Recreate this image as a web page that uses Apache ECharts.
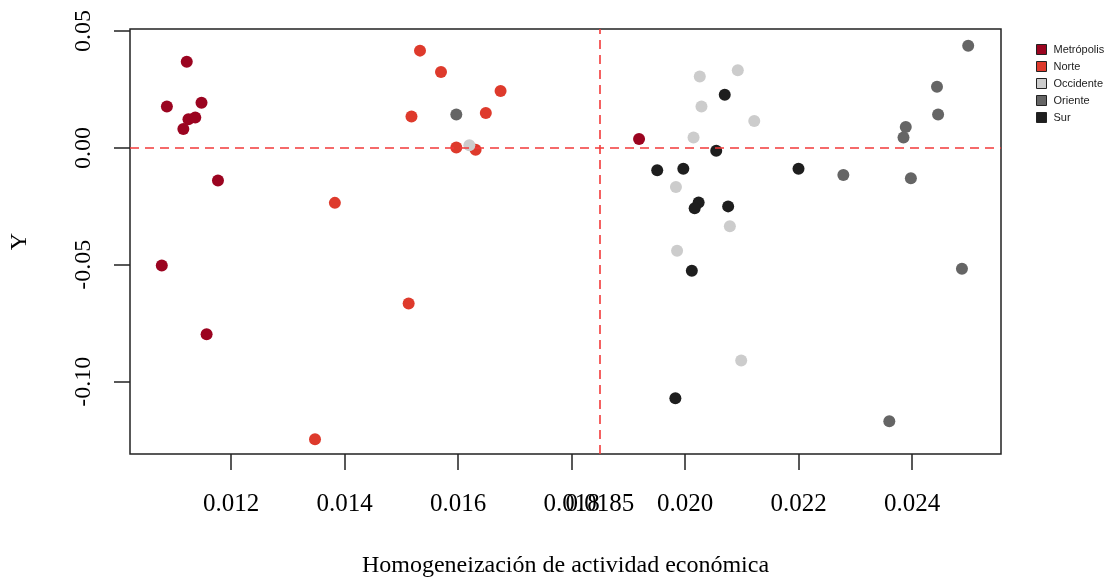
<!DOCTYPE html>
<html>
<head>
<meta charset="utf-8">
<script src="https://cdn.jsdelivr.net/npm/echarts@6/dist/echarts.min.js"></script>
<style>
  html, body { margin: 0; padding: 0; background: #fff; }
  #chart { width: 1116px; height: 583px; }
</style>
</head>
<body>
<div id="chart"></div>
<script>
    var regions = ['Metrópolis', 'Norte', 'Occidente', 'Oriente', 'Sur']
    var colors = ['#9b0420', '#de3a2c', '#cccccc', '#656565', '#1e1e1e']

    // homogeneizacion (x) / Y por region
    var metX = [0.01122, 0.01087, 0.01148, 0.01125, 0.01137, 0.01116, 0.01177, 0.01078, 0.01157, 0.01919]
    var metY = [0.0368, 0.0177, 0.0193, 0.0123, 0.0130, 0.0081, -0.0139, -0.0503, -0.0797, 0.0038]

    var norX = [0.01533, 0.01570, 0.01518, 0.01597, 0.01675, 0.01649, 0.01631, 0.01383, 0.01513, 0.01348]
    var norY = [0.0416, 0.0325, 0.0134, 0.0002, 0.0243, 0.0149, -0.0008, -0.0235, -0.0665, -0.1246]

    var occX = [0.01620, 0.02026, 0.02093, 0.02029, 0.02122, 0.02015, 0.01984, 0.02079, 0.01986, 0.02099]
    var occY = [0.0011, 0.0305, 0.0332, 0.0177, 0.0115, 0.0045, -0.0167, -0.0335, -0.0440, -0.0909]

    var oriX = [0.01597, 0.02499, 0.02444, 0.02446, 0.02389, 0.02385, 0.02279, 0.02398, 0.02488, 0.02360]
    var oriY = [0.0143, 0.0437, 0.0262, 0.0143, 0.0089, 0.0045, -0.0116, -0.0130, -0.0517, -0.1169]

    var surX = [0.02070, 0.02055, 0.01951, 0.01997, 0.02024, 0.02017, 0.02076, 0.02200, 0.02012, 0.01983]
    var surY = [0.0227, -0.0012, -0.0096, -0.0089, -0.0233, -0.0258, -0.0250, -0.0089, -0.0525, -0.1071]

    var xTicks = [0.012, 0.014, 0.016, 0.018, 0.020, 0.022, 0.024]
    var xLabels = [0.012, 0.014, 0.016, 0.018, 0.0185, 0.020, 0.022, 0.024]
    var yTicks = [-0.10, -0.05, 0, 0.05]

    var xCut = 0.0185
    var yCut = 0

    var xMin = 0.01022, xMax = 0.025568
    var yMin = -0.13089, yMax = 0.05085

    var pairs = function (xs, ys) {
        var res = []
        for (var i = 0; i < xs.length; i++) {
            res.push([xs[i], ys[i]])
        }
        return res
    }

    var serif = '"Liberation Serif", "Times New Roman", serif'
    var allX = [metX, norX, occX, oriX, surX]
    var allY = [metY, norY, occY, oriY, surY]

    var series = []
    for (var k = 0; k < regions.length; k++) {
        series.push({
            name: regions[k],
            type: 'scatter',
            symbol: 'circle',
            symbolSize: 12,
            itemStyle: { color: colors[k], opacity: 1 },
            data: pairs(allX[k], allY[k])
        })
    }
    series.push({
        name: 'cortes',
        type: 'scatter',
        data: [],
        z: 5,
        markLine: {
            silent: true,
            symbol: 'none',
            label: { show: false },
            lineStyle: { color: '#f23a3a', width: 1.6, type: [9, 6] },
            data: [
                [{ coord: [xCut, yMin] }, { coord: [xCut, yMax] }],
                [{ coord: [xMin, yCut] }, { coord: [xMax, yCut] }]
            ]
        }
    })

    var chart = echarts.init(document.getElementById('chart'))

    var option = {
        animation: false,
        backgroundColor: '#fff',
        grid: {
            left: 130, top: 29, width: 871, height: 426,
            show: true, borderColor: '#222', borderWidth: 1.5
        },
        legend: {
            data: regions,
            orient: 'vertical',
            left: 1031, top: 39,
            itemWidth: 10, itemHeight: 10, itemGap: 6,
            icon: 'rect',
            itemStyle: { borderColor: '#222', borderWidth: 1 },
            textStyle: { fontFamily: '"Liberation Sans", Arial, sans-serif', fontSize: 11, color: '#222', padding: [0, 0, 0, 2] }
        },
        xAxis: {
            type: 'value',
            min: xMin, max: xMax,
            name: 'Homogeneización de actividad económica',
            nameLocation: 'middle',
            nameGap: 100,
            nameTextStyle: { fontFamily: serif, fontSize: 24, color: '#000' },
            axisLine: { show: false, onZero: false },
            splitLine: { show: false },
            axisTick: { show: true, inside: false, length: 16, customValues: xTicks, lineStyle: { color: '#222', width: 1.5 } },
            axisLabel: {
                customValues: xLabels,
                margin: 38,
                fontFamily: serif, fontSize: 25, color: '#000',
                formatter: function (v) { return v === 0.0185 ? '0.0185' : v.toFixed(3) }
            }
        },
        yAxis: {
            type: 'value',
            min: yMin, max: yMax,
            name: 'Y',
            nameLocation: 'middle',
            nameRotate: 90,
            nameGap: 98,
            nameTextStyle: { fontFamily: serif, fontSize: 24, color: '#000' },
            axisLine: { show: false, onZero: false },
            splitLine: { show: false },
            axisTick: { show: true, inside: false, length: 16, customValues: yTicks, lineStyle: { color: '#222', width: 1.5 } },
            axisLabel: {
                customValues: yTicks,
                rotate: 90,
                margin: 34,
                fontFamily: serif, fontSize: 24, color: '#000',
                formatter: function (v) { return v.toFixed(2) }
            }
        },
        series: series
    }

    chart.setOption(option)
</script>
</body>
</html>
